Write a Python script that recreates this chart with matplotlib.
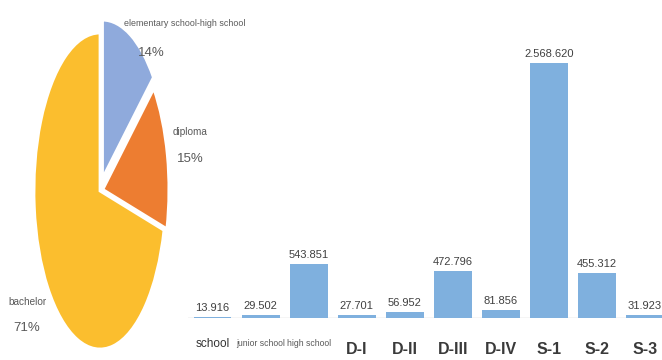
import matplotlib
matplotlib.use("Agg")
import matplotlib.pyplot as plt

# -------------------------------
# DATA
# -------------------------------
pie_labels = ["elementary school-high school", "diploma", "bachelor"]
pie_shares = [14, 15, 71]
pie_colors = ["#8faadc", "#ed7d31", "#fbbe2e"]

bar_labels = ["school", "junior school", "high school", "D-I", "D-II",
              "D-III", "D-IV", "S-1", "S-2", "S-3"]
bar_values = [13916, 29502, 543851, 27701, 56952,
              472796, 81856, 2568620, 455312, 31923]

# narrowest of the installed fonts
plt.rcParams["font.family"] = ["Liberation Sans", "DejaVu Sans"]

W, H = 662, 360
fig = plt.figure(figsize=(W / 100, H / 100), dpi=100)


def fx(px):
    return px / W


def fy(py):
    return 1 - py / H


# -------------------------------
# PIE (stretched like the screenshot)
# -------------------------------
ax_pie = fig.add_axes([fx(34), fy(349), fx(132), 316 / H])
wedges, _ = ax_pie.pie(pie_shares, colors=pie_colors, startangle=90,
                       counterclock=False, explode=[0.09, 0.045, 0],
                       wedgeprops=dict(edgecolor="white", linewidth=2))
for w in wedges:
    w.set_clip_on(False)
ax_pie.set_aspect("auto")
ax_pie.set_xlim(-1, 1)
ax_pie.set_ylim(-1, 1)

# pie labels
pie_txt = "#595959"
fig.text(fx(185), fy(24), pie_labels[0], fontsize=6.4, color=pie_txt,
         ha="center", va="center")
fig.text(fx(151), fy(53), f"{pie_shares[0]}%", fontsize=9.5, color=pie_txt,
         ha="center", va="center")
fig.text(fx(190), fy(132), pie_labels[1], fontsize=7.2, color=pie_txt,
         ha="center", va="center")
fig.text(fx(190), fy(159), f"{pie_shares[1]}%", fontsize=9.5, color=pie_txt,
         ha="center", va="center")
fig.text(fx(27), fy(302), pie_labels[2], fontsize=7.2, color=pie_txt,
         ha="center", va="center")
fig.text(fx(27), fy(328), f"{pie_shares[2]}%", fontsize=9.5, color=pie_txt,
         ha="center", va="center")

# -------------------------------
# BARS
# -------------------------------
# x = 0 sits at 212.5 px, 48.06 px per bar, baseline at 318 px
left_px = 212.5 - 0.5 * 48.06
right_px = 212.5 + 9.5 * 48.06
ax_bar = fig.add_axes([fx(left_px), fy(318), fx(right_px - left_px), 298 / H])
xs = list(range(len(bar_values)))
ax_bar.bar(xs, bar_values, width=0.79, color="#7fb0de", zorder=2)
ax_bar.set_xlim(-0.5, 9.5)
ax_bar.set_ylim(0, 3000000)
ax_bar.axhline(0, color="#cfcfcf", linewidth=1, zorder=1)
ax_bar.axis("off")

for x, v in zip(xs, bar_values):
    txt = f"{v:,}".replace(",", ".")
    ax_bar.annotate(txt, (x, v), xytext=(0, 4), textcoords="offset pixels",
                    ha="center", va="bottom", fontsize=8, color="#404040")

for x, lab in zip(xs, bar_labels):
    if lab == "school":
        size, weight, col, off = 8.5, "normal", "#333333", -26
    elif lab in ("junior school", "high school"):
        size, weight, col, off = 6.2, "normal", "#595959", -26
    else:
        size, weight, col, off = 11.5, "bold", "#3a3a3a", -31
    ax_bar.annotate(lab, (x, 0), xytext=(0, off), textcoords="offset pixels",
                    ha="center", va="center", fontsize=size,
                    fontweight=weight, color=col, annotation_clip=False)

plt.savefig("out.png", dpi=100)
plt.close()
